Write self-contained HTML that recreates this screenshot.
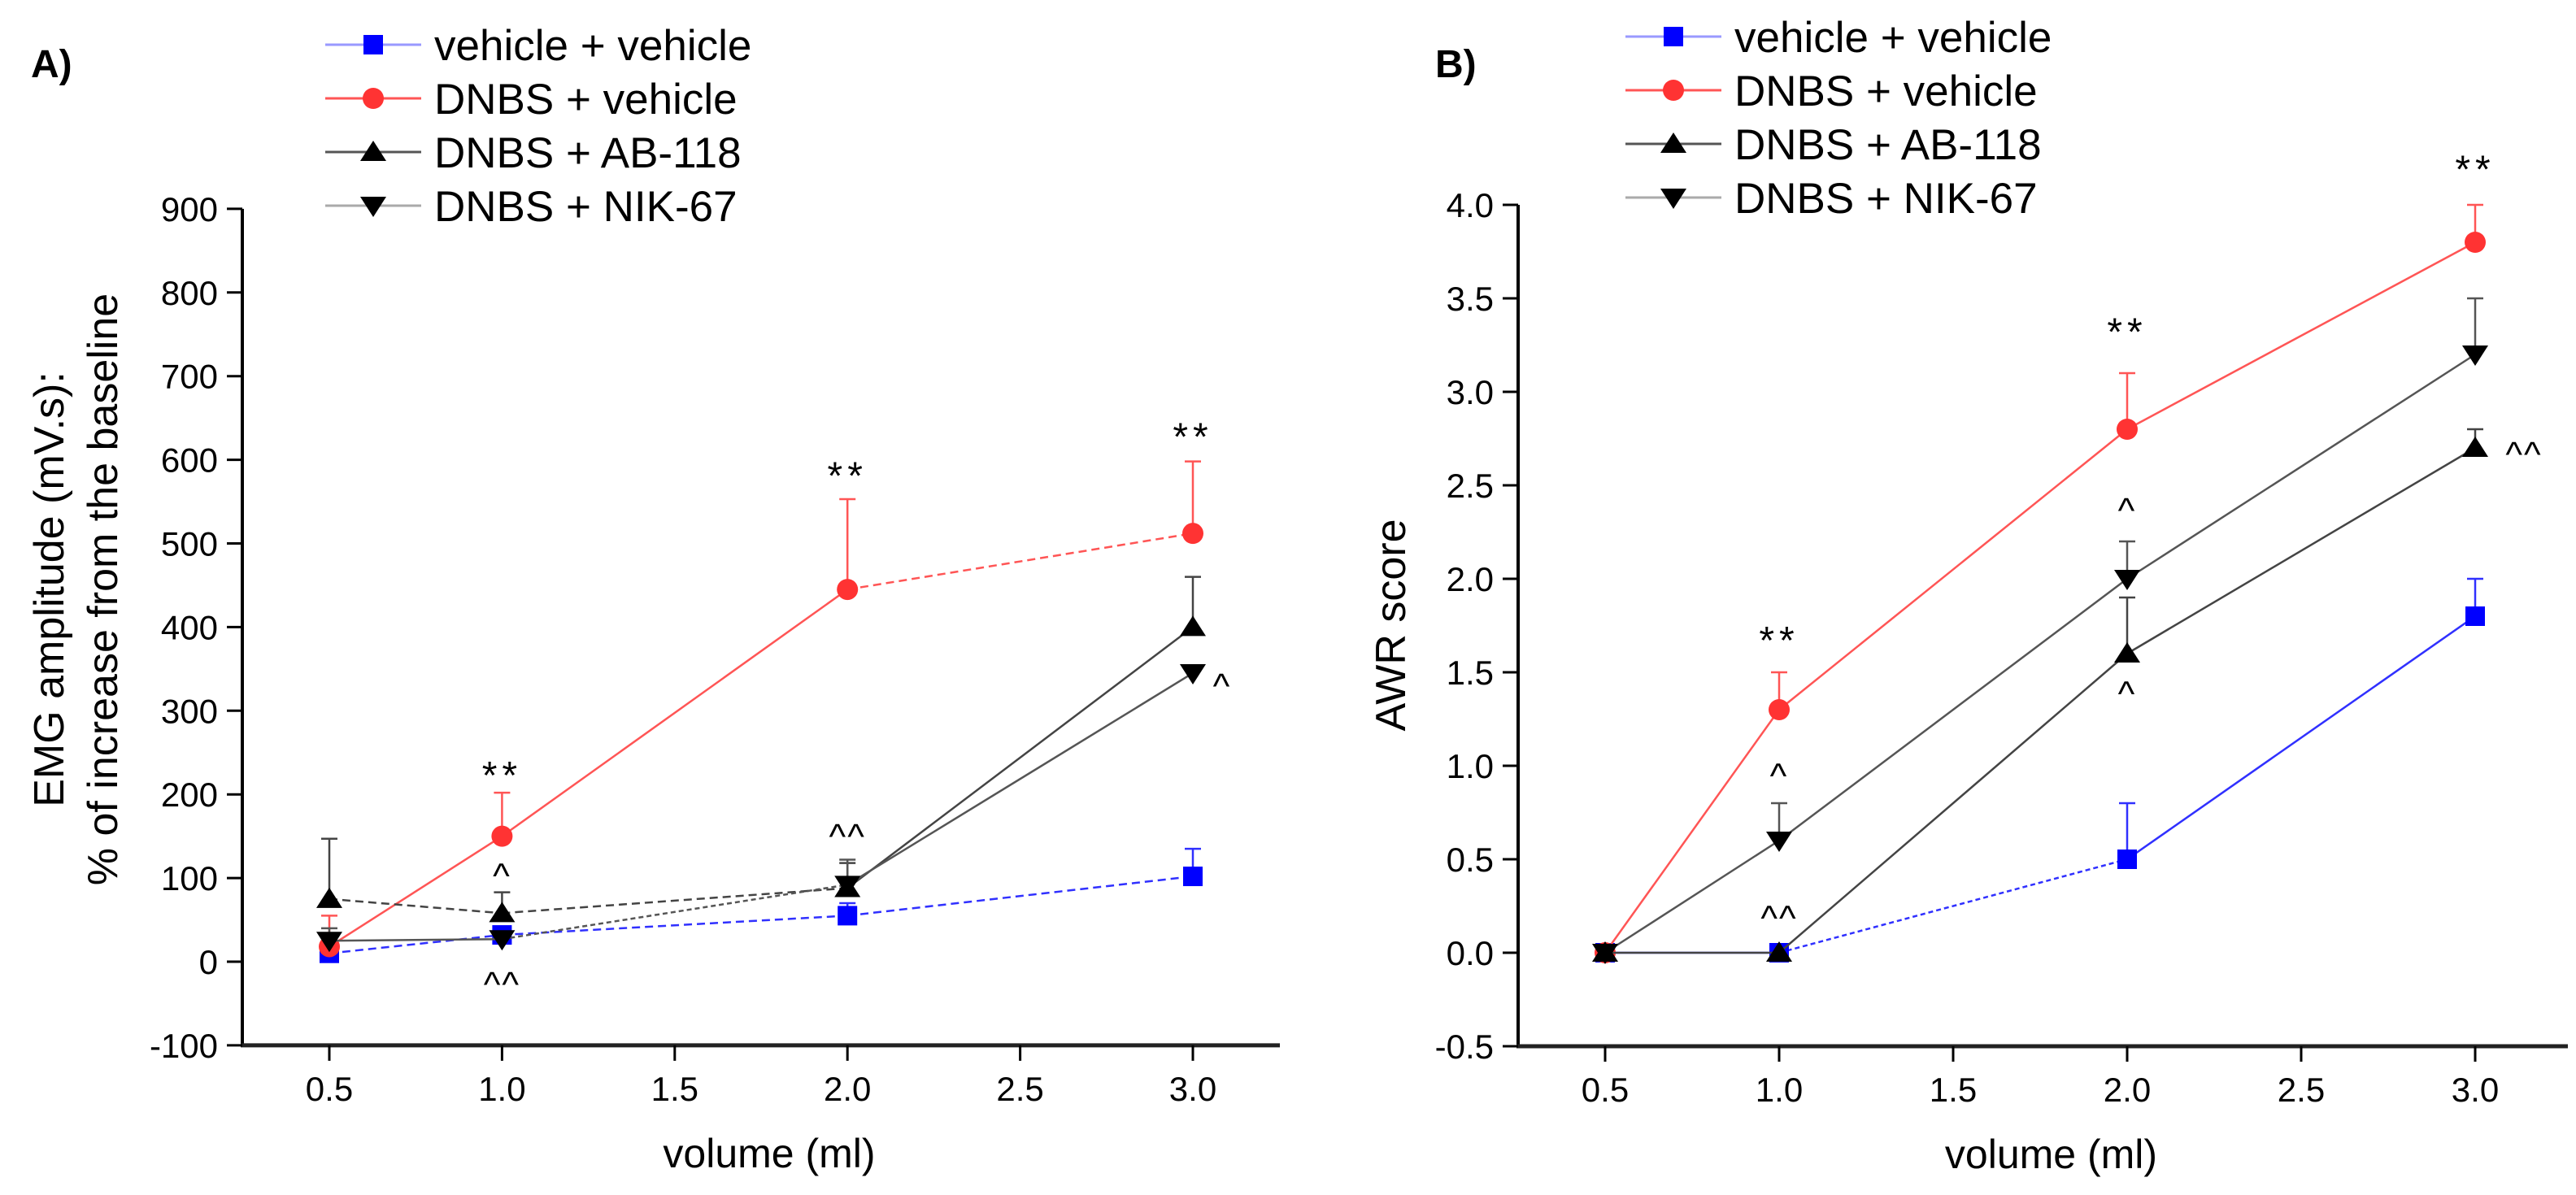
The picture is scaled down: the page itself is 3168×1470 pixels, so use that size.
<!DOCTYPE html>
<html><head><meta charset="utf-8"><style>
html,body{margin:0;padding:0;background:#fff;width:3168px;height:1470px;overflow:hidden}
svg text{font-family:"Liberation Sans",Arial,sans-serif;fill:#000}
</style></head><body>
<svg id="fig" width="3168" height="1470" viewBox="0 0 3168 1470" xmlns="http://www.w3.org/2000/svg"></svg>
<script>
// ---- shared data ----
const xVolumes = [0.5, 1.0, 2.0, 3.0];
const xTickLabels = ["0.5","1.0","1.5","2.0","2.5","3.0"];
const seriesNames = ["vehicle + vehicle","DNBS + vehicle","DNBS + AB-118","DNBS + NIK-67"];
// ---- panel A (EMG) ----
const emgTicks = [-100,0,100,200,300,400,500,600,700,800,900];
const emgVehVeh = [10, 32, 55, 102];
const emgVehVehErr = [10, 32, 70, 135];
const emgDnbsVeh = [18, 150, 445, 512];
const emgDnbsVehErr = [55, 202, 553, 598];
const emgAB = [75, 58, 88, 400];
const emgABErr = [147, 83, 118, 460];
const emgNIK = [25, 27, 92, 345];
const emgNIKErr = [40, 27, 122, 345];
// ---- panel B (AWR) ----
const awrTicks = [-0.5,0,0.5,1,1.5,2,2.5,3,3.5,4];
const awrTickLabels = ["-0.5","0.0","0.5","1.0","1.5","2.0","2.5","3.0","3.5","4.0"];
const awrVehVeh = [0, 0, 0.5, 1.8];
const awrVehVehErr = [0, 0, 0.8, 2.0];
const awrDnbsVeh = [0, 1.3, 2.8, 3.8];
const awrDnbsVehErr = [0, 1.5, 3.1, 4.0];
const awrAB = [0, 0, 1.6, 2.7];
const awrABErr = [0, 0, 1.9, 2.8];
const awrNIK = [0, 0.6, 2.0, 3.2];
const awrNIKErr = [0, 0.8, 2.2, 3.5];

const NS = "http://www.w3.org/2000/svg";
const svg = document.getElementById("fig");
function el(tag, attrs, parent, text){
  const e = document.createElementNS(NS, tag);
  for (const k in attrs) e.setAttribute(k, attrs[k]);
  if (text !== undefined) e.textContent = text;
  (parent || svg).appendChild(e);
  return e;
}
function marker(g, kind, cx, cy, color){
  let m;
  if (kind === "square") m = el("rect", {x:cx-12, y:cy-12, width:24, height:24, fill:color}, g);
  else if (kind === "circle") m = el("circle", {cx:cx, cy:cy, r:13, fill:color}, g);
  else if (kind === "up") m = el("polygon", {points:`${cx-16},${cy+11} ${cx+16},${cy+11} ${cx},${cy-14}`, fill:color}, g);
  else m = el("polygon", {points:`${cx-16},${cy-11} ${cx+16},${cy-11} ${cx},${cy+14}`, fill:color}, g);
  return m;
}
const styles = [
  {kind:"square", color:"#0000ff", line:"#3030ff"},
  {kind:"circle", color:"#ff3333", line:"#ff5555"},
  {kind:"up", color:"#000", line:"#444"},
  {kind:"down", color:"#000", line:"#555"}
];

function panel(cfg){
  const g = el("g", {});
  
  
  const X = v => cfg.x0 + (v - 0.5) / 0.5 * cfg.xStep;
  const Y = v => cfg.yZero - v * cfg.yScale;
  const yBottom = Y(cfg.yTicks[0]);
  const yTop = Y(cfg.yTicks[cfg.yTicks.length-1]);
  const ya = el("line", {x1:cfg.ax, y1:yTop, x2:cfg.ax, y2:yBottom+2, stroke:"#000", "stroke-width":4}, g);
  
  
  const xa = el("line", {x1:cfg.ax-2, y1:yBottom, x2:cfg.xEnd, y2:yBottom, stroke:"#222", "stroke-width":5}, g);
  
  
  cfg.yTicks.forEach((t,i) => {
    el("line", {x1:cfg.ax-19, y1:Y(t), x2:cfg.ax, y2:Y(t), stroke:"#000", "stroke-width":3}, g);
    const lb = el("text", {x:cfg.ax-30, y:Y(t)+15, "font-size":42, "text-anchor":"end"}, g, cfg.yLabels[i]);
    
    
  });
  xTickLabels.forEach(t => {
    const v = parseFloat(t);
    el("line", {x1:X(v), y1:yBottom, x2:X(v), y2:yBottom+19, stroke:"#000", "stroke-width":3}, g);
    const lb = el("text", {x:X(v), y:yBottom+68, "font-size":42, "text-anchor":"middle"}, g, t);
    
    
  });
  const xt = el("text", {x:(cfg.ax+cfg.xEnd)/2+10, y:yBottom+150, "font-size":50, "text-anchor":"middle"}, g, "volume (ml)");
  
  
  cfg.series.forEach((s, si) => {
    const st = styles[si];
    const sg = el("g", {}, g);
    
    
    for (let i = 0; i < xVolumes.length - 1; i++) {
      const seg = el("line", {x1:X(xVolumes[i]), y1:Y(s.vals[i]), x2:X(xVolumes[i+1]), y2:Y(s.vals[i+1]), stroke:st.line, "stroke-width":2.5}, sg);
      const d = cfg.dash[si][i];
      if (d) seg.setAttribute("stroke-dasharray", d);
      
      
    }
    xVolumes.forEach((v,i) => {
      if (s.err[i] > s.vals[i]) {
        el("line", {x1:X(v), y1:Y(s.vals[i]), x2:X(v), y2:Y(s.err[i]), stroke:st.line, "stroke-width":2.5}, sg);
        el("line", {x1:X(v)-10, y1:Y(s.err[i]), x2:X(v)+10, y2:Y(s.err[i]), stroke:st.line, "stroke-width":2.5}, sg);
      }
    });
    xVolumes.forEach((v,i) => {
      const m = marker(sg, st.kind, X(v), Y(s.vals[i]), st.color);
      
      
    });
  });
  cfg.annots.forEach(a => {
    const t = el("text", {x:X(a[0])+(a[3]||0), y:Y(a[1]), "font-size":a[2]==="**"?48:44, "text-anchor":"middle", "letter-spacing":a[2]==="**"?6:2}, g, a[2]);
    
    
  });
  const lg = el("g", {}, g);
  
  
  seriesNames.forEach((n, i) => {
    const st = styles[i];
    const y = cfg.legY + i*66;
    const e = el("g", {}, lg);
    
    
    el("line", {x1:cfg.legX, y1:y, x2:cfg.legX+118, y2:y, stroke:i===0?"#9999ff":(i===1?"#ff5555":(i===2?"#555":"#aaa")), "stroke-width":3}, e);
    marker(e, st.kind, cfg.legX+59, y, st.color);
    el("text", {x:cfg.legX+134, y:y+19, "font-size":53}, e, n);
  });
  const pl = el("text", {x:cfg.labX, y:95, "font-size":48, "font-weight":"bold"}, g, cfg.label);
  
  
  const yt = el("g", {transform:`translate(${cfg.ytX},${cfg.ytY}) rotate(-90)`}, g);
  
  
  cfg.yTitle.forEach((line, i) => el("text", {x:0, y:i*66, "font-size":52, "text-anchor":"middle"}, yt, line));
}

panel({name:"panel-a-emg", label:"A)", labX:38, ax:298, x0:405, xStep:212.4, xEnd:1574,
  yZero:1183, yScale:1.029, yTicks:emgTicks, yLabels:emgTicks.map(String),
  legX:400, legY:55, ytX:78, ytY:725,
  yTitle:["EMG amplitude (mV.s):","% of increase from the baseline"],
  dash:[["10,6","10,6","10,6"],["","","10,6"],["10,6","10,6",""],["","6,4",""]],
  series:[{vals:emgVehVeh,err:emgVehVehErr},{vals:emgDnbsVeh,err:emgDnbsVehErr},{vals:emgAB,err:emgABErr},{vals:emgNIK,err:emgNIKErr}],
  annots:[[1,207,"**"],[2,565,"**"],[3,612,"**"],[1,88,"^"],[2,135,"^^"],[1,-42,"^^"],[3,315,"^",36]]});

panel({name:"panel-b-awr", label:"B)", labX:1765, ax:1867, x0:1974, xStep:214, xEnd:3158,
  yZero:1172, yScale:230, yTicks:awrTicks, yLabels:awrTickLabels,
  legX:1999, legY:45, ytX:1728, ytY:769,
  yTitle:["AWR score"],
  dash:[["","6,4",""],["","",""],["","",""],["","",""]],
  series:[{vals:awrVehVeh,err:awrVehVehErr},{vals:awrDnbsVeh,err:awrDnbsVehErr},{vals:awrAB,err:awrABErr},{vals:awrNIK,err:awrNIKErr}],
  annots:[[1,1.6,"**"],[2,3.25,"**"],[3,4.12,"**"],[1,0.88,"^"],[1,0.12,"^^"],[2,2.3,"^"],[2,1.32,"^"],[3,2.6,"^^",60]]});
</script>
</body></html>
